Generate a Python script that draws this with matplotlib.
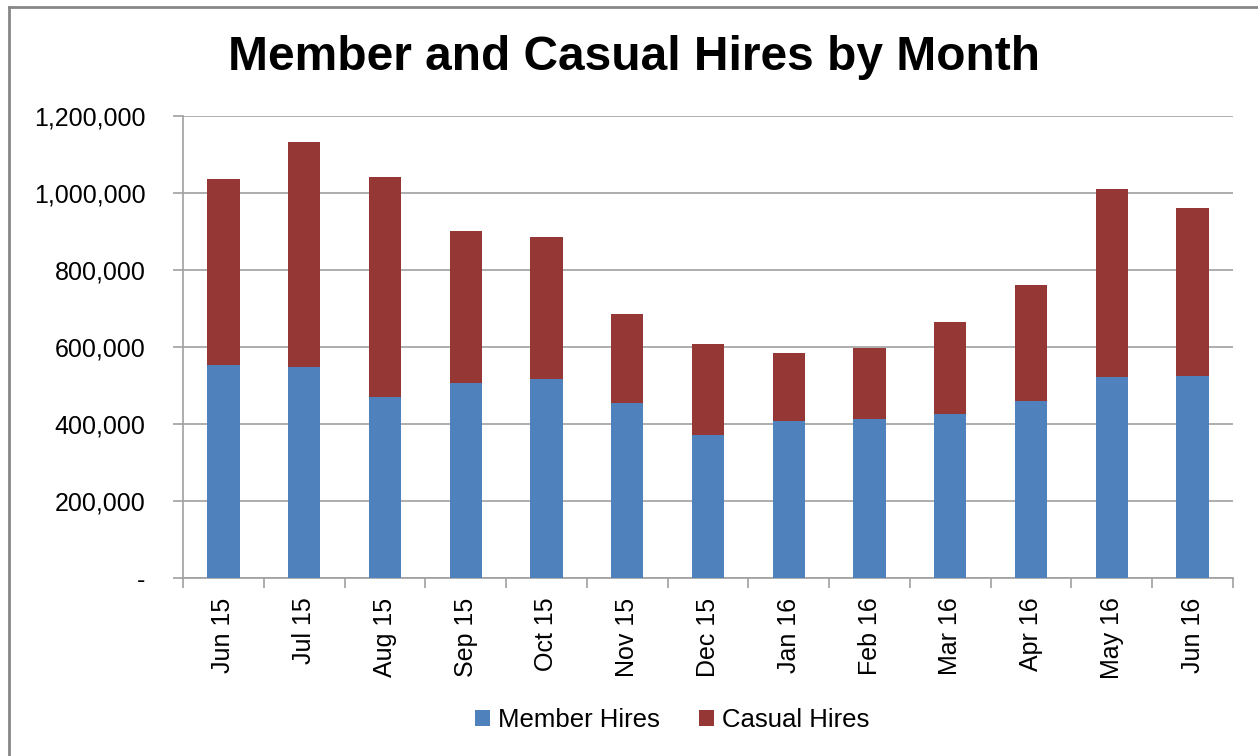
import numpy as np
import matplotlib.pyplot as plt
from matplotlib.lines import Line2D
from matplotlib.ticker import FuncFormatter

plt.rcParams['font.family'] = ['Liberation Sans', 'DejaVu Sans']

months = ['Jun 15', 'Jul 15', 'Aug 15', 'Sep 15', 'Oct 15', 'Nov 15', 'Dec 15',
          'Jan 16', 'Feb 16', 'Mar 16', 'Apr 16', 'May 16', 'Jun 16']
member = [554500, 547600, 471300, 506800, 517200, 454000, 370800,
          407200, 414100, 427100, 460900, 521600, 524200]
totals = [1037000, 1133300, 1040500, 900200, 884600, 684500, 606500,
          584000, 598700, 664500, 760700, 1010200, 960800]
casual = [t - m for t, m in zip(totals, member)]

fig = plt.figure(figsize=(12.58, 7.56), dpi=100)
ax = fig.add_axes([183/1258, 1-578/756, 1050/1258, 462/756])

x = np.arange(len(months))
ax.bar(x, member, width=0.4, color='#4F81BD', label='Member Hires', zorder=3)
ax.bar(x, casual, width=0.4, bottom=member, color='#953735', label='Casual Hires', zorder=3)

ax.set_xlim(-0.5, len(months) - 0.5)
ax.set_ylim(0, 1200000)
ax.set_yticks(np.arange(0, 1200001, 200000))
ax.yaxis.set_major_formatter(FuncFormatter(lambda v, p: '-' if v == 0 else f'{int(v):,}'))
ax.grid(axis='y', color='#A0A0A0', linewidth=1.2, zorder=0)

ax.set_xticks(x)
ax.set_xticklabels(months, rotation=90)
ax.set_xticks(np.arange(-0.5, len(months)), minor=True)
ax.tick_params(axis='x', which='major', length=0, pad=14, labelsize=18)
ax.tick_params(axis='x', which='minor', length=7, color='#A0A0A0', width=1.2)
ax.tick_params(axis='y', length=7, color='#A0A0A0', width=1.2, pad=20, labelsize=18)

for s in ['top', 'right']:
    ax.spines[s].set_visible(False)
for s in ['left', 'bottom']:
    ax.spines[s].set_color('#A0A0A0')
    ax.spines[s].set_linewidth(1.2)

fig.text(0.504, 1-58/756, 'Member and Casual Hires by Month', ha='center', va='center',
         fontsize=34.5, fontweight='bold')

fig.legend(loc='center', bbox_to_anchor=(672/1258, 1-720/756), ncol=2, frameon=False,
           fontsize=18.5, handlelength=0.6, handleheight=0.6, handletextpad=0.3,
           columnspacing=1.5)

# chart border (left + top visible)
fig.add_artist(Line2D([9/1258, 9/1258], [0, 1-7/756], transform=fig.transFigure,
                      color='#878787', linewidth=2))
fig.add_artist(Line2D([9/1258, 1], [1-7/756, 1-7/756], transform=fig.transFigure,
                      color='#878787', linewidth=2))

fig.savefig('out.png', dpi=100)
